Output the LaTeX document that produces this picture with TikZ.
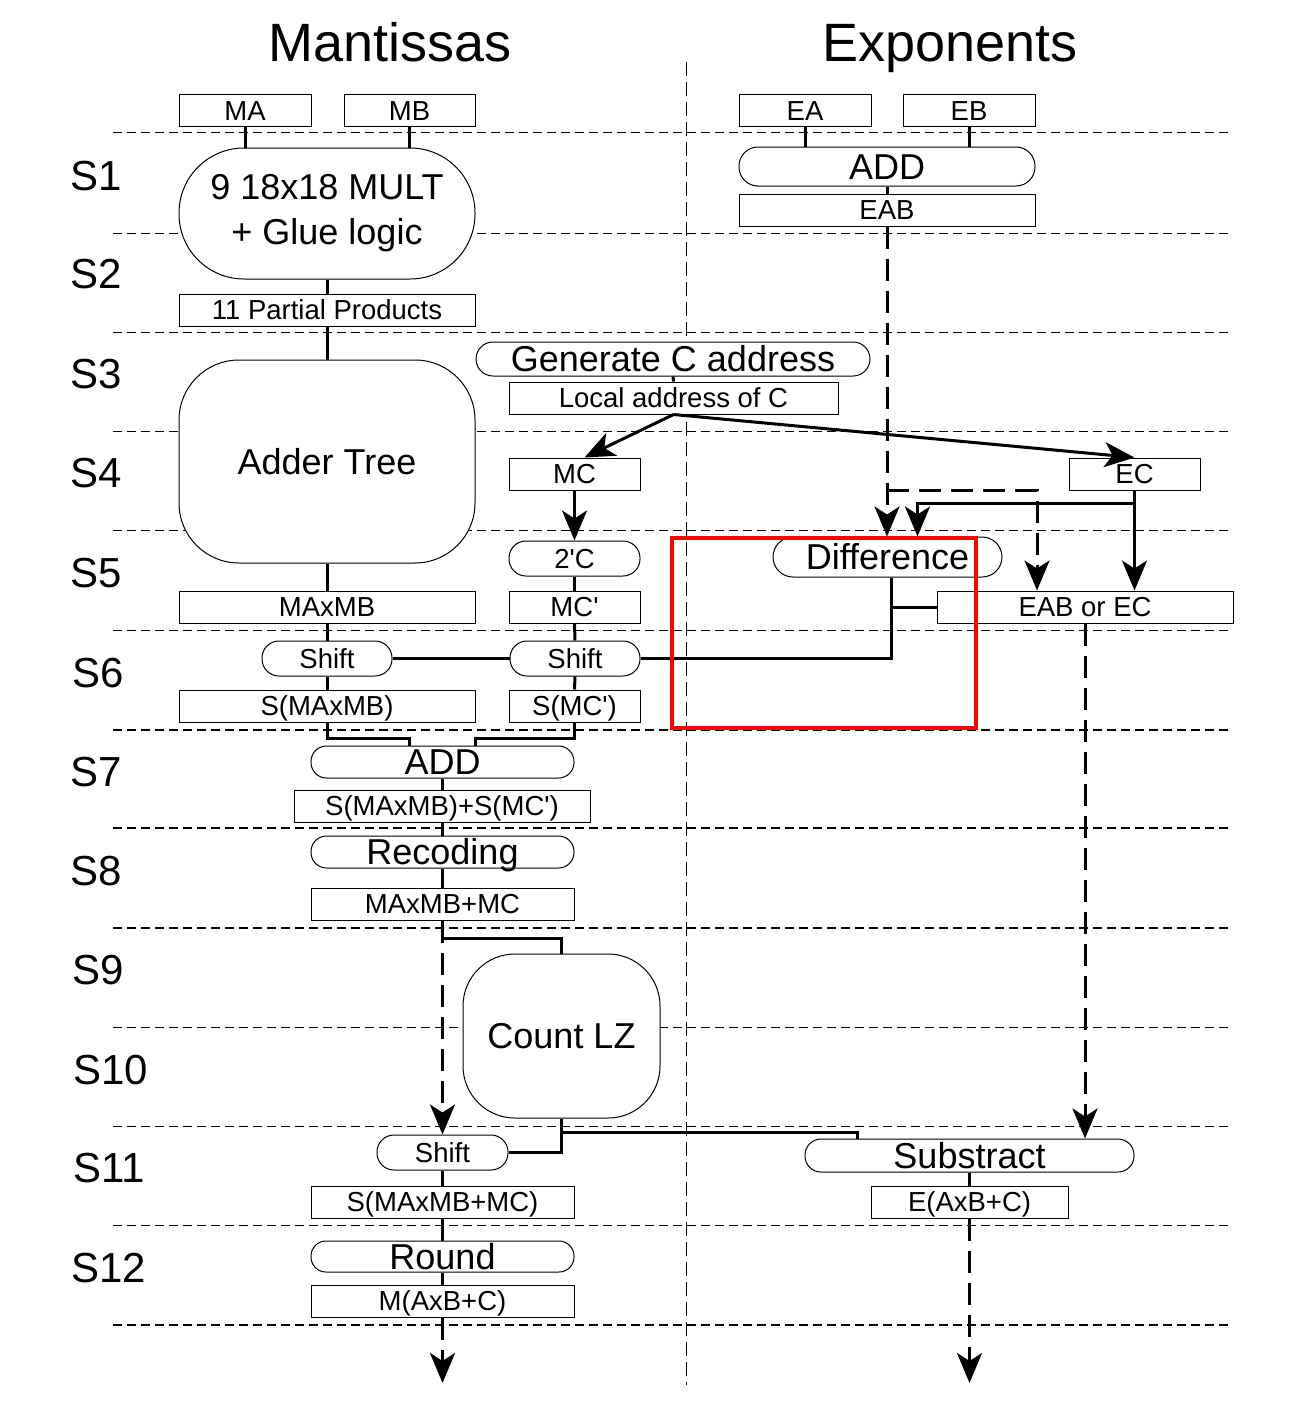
\documentclass[tikz,border=0pt]{standalone}
\usepackage{fontspec}
\newfontfamily\lsans{Liberation Sans}
\newcommand\dsmall{\lsans\fontsize{27.5}{33}\selectfont}
\newcommand\dbig{\lsans\fontsize{36}{45}\selectfont}
\newcommand\dstage{\lsans\fontsize{42}{50}\selectfont}
\newcommand\dtitle{\lsans\fontsize{54}{64}\selectfont}
\usetikzlibrary{arrows.meta}
\begin{document}
\begin{tikzpicture}[x=1pt,y=-1pt,
 rbox/.style 2 args={draw,line width=1pt,fill=white,inner sep=0pt,minimum width=#1,minimum height=#2,font=\dsmall,text height=19.7pt,text depth=0pt},
 sbox/.style n args={3}{rbox={#1}{#2},rounded corners=#3},
 bigt/.style={font=\dbig,text height=25.8pt,text depth=0pt},
 conn/.style={line width=3pt},
 dconn/.style={line width=3pt,dash pattern=on 22pt off 10pt},
 arr/.style={-{Stealth[length=30pt,width=25pt,inset=8pt]}},
 sep/.style={line width=0.9pt,dash pattern=on 9pt off 5pt},
 sepb/.style={line width=1.7pt,dash pattern=on 9pt off 5pt},
 vsep/.style={line width=0.9pt,dash pattern=on 14pt off 6pt},
 stg/.style={font=\dstage,anchor=west,inner sep=0pt,text height=30.1pt,text depth=0pt},
 ttl/.style={font=\dtitle,inner sep=0pt,text height=38.7pt,text depth=0pt}]
\useasboundingbox (0,0) rectangle (1296,1410);

% separators
\foreach \yy in {132,233,332,431,530,630,1027,1126,1225}{\draw[sep] (113,\yy) -- (1230,\yy);}
\foreach \yy in {730,828,928,1325}{\draw[sepb] (113,\yy) -- (1232,\yy);}
\draw[vsep] (686,62) -- (686,1385);

% titles and stages
\node[ttl] (tM) at (390,42) {Mantissas};
\node[ttl] (tE) at (950,42) {Exponents};
\node[stg] (s1) at (70,175) {S1};
\node[stg] (s2) at (70,273) {S2};
\node[stg] (s3) at (70,373) {S3};
\node[stg] (s4) at (70,472) {S4};
\node[stg] (s5) at (70,572) {S5};
\node[stg] (s6) at (72,672) {S6};
\node[stg] (s7) at (70,771) {S7};
\node[stg] (s8) at (70,870) {S8};
\node[stg] (s9) at (72,969) {S9};
\node[stg] (s10) at (73,1069) {S10};
\node[stg] (s11) at (73,1167) {S11};
\node[stg] (s12) at (71,1267) {S12};

% nodes
\node[rbox={132pt}{32pt}] (MA) at (245,111) {MA};
\node[rbox={131pt}{32pt}] (MB) at (409.5,111) {MB};
\node[rbox={132pt}{32pt}] (EA) at (805,111) {EA};
\node[rbox={132pt}{32pt}] (EB) at (969,111) {EB};
\node[draw,line width=1pt,fill=white,inner sep=0pt,minimum width=296pt,minimum height=131pt,rounded corners=65pt,font=\dbig,align=center] (MULT) at (327,213.5) {9 18x18 MULT\\+ Glue logic};
\node[rbox={296pt}{32pt}] (PP) at (327,310) {11 Partial Products};
\node[sbox={296pt}{39pt}{19pt},bigt] (ADDE) at (887,166.5) {ADD};
\node[rbox={296pt}{32pt}] (EAB) at (887,210) {EAB};
\node[sbox={394pt}{34pt}{17pt},bigt] (GEN) at (673,359) {Generate C address};
\node[rbox={329pt}{32pt}] (LOC) at (673.5,398) {Local address of C};
\node[sbox={296pt}{203pt}{60pt},bigt] (ADDER) at (327,461.5) {Adder Tree};
\node[rbox={131pt}{32pt}] (MC) at (574.5,474) {MC};
\node[rbox={131pt}{32pt}] (EC) at (1134.5,474) {EC};
\node[sbox={131pt}{35pt}{17pt}] (TWOC) at (574.5,558.5) {2'C};
\node[sbox={229pt}{40pt}{20pt},bigt] (DIFF) at (887.5,557) {Difference};
\node[rbox={296pt}{32pt}] (MAMB) at (327,607) {MAxMB};
\node[rbox={131pt}{32pt}] (MCP) at (574.5,607) {MC'};
\node[rbox={296pt}{32pt}] (EOR) at (1085,607) {EAB or EC};
\node[sbox={130pt}{35pt}{17pt}] (SH1) at (327,658.5) {Shift};
\node[sbox={130pt}{35pt}{17pt}] (SH2) at (575,658.5) {Shift};
\node[rbox={296pt}{32pt}] (SMAMB) at (327,706) {S(MAxMB)};
\node[rbox={131pt}{32pt}] (SMC) at (574.5,706) {S(MC')};
\node[sbox={263pt}{32pt}{15.5pt},bigt] (ADDM) at (442.5,762) {ADD};
\node[rbox={296pt}{32pt}] (SUM) at (442,806) {S(MAxMB)+S(MC')};
\node[sbox={263pt}{32pt}{15.5pt},bigt] (REC) at (442.5,852) {Recoding};
\node[rbox={263pt}{32pt}] (MM) at (442.5,904) {MAxMB+MC};
\node[sbox={197pt}{164pt}{52pt},bigt] (CLZ) at (561.5,1036) {Count LZ};
\node[sbox={131pt}{35pt}{17pt}] (SH3) at (442.5,1152.5) {Shift};
\node[sbox={329pt}{33pt}{16pt},bigt] (SUB) at (969.5,1155.5) {Substract};
\node[rbox={263pt}{32pt}] (SMM) at (442.5,1202) {S(MAxMB+MC)};
\node[rbox={197pt}{32pt}] (EABC) at (969.5,1202) {E(AxB+C)};
\node[sbox={263pt}{31pt}{15pt},bigt] (ROUND) at (442.5,1256.5) {Round};
\node[rbox={263pt}{32pt}] (MABC) at (442.5,1301) {M(AxB+C)};

% helper coordinates
\coordinate (dj) at (EAB.south |- EC.south);
\coordinate (ecj) at ([yshift=-13pt]EC.south);
\coordinate (cj) at ([yshift=-14pt]CLZ.south);
\coordinate (dv) at ([xshift=3.5pt]DIFF.south);
\coordinate (outM) at (442.5,1383);
\coordinate (outE) at (969.5,1383);

% connectors
\draw[conn] (MA.south) -- (MA.south |- MULT.north);
\draw[conn] (MB.south) -- (MB.south |- MULT.north);
\draw[conn] (MULT.south) -- (PP.north);
\draw[conn] (PP.south) -- (ADDER.north);
\draw[conn] (ADDER.south) -- (MAMB.north);
\draw[conn] (MAMB.south) -- (SH1.north);
\draw[conn] (SH1.south) -- (SMAMB.north);
\draw[conn] (EA.south) -- (EA.south |- ADDE.north);
\draw[conn] (EB.south) -- (EB.south |- ADDE.north);
\draw[conn] (ADDE.south) -- (EAB.north);
\draw[conn] (GEN.south) -- (LOC.north);
\draw[conn,arr] (LOC.south) -- ([xshift=10pt]MC.north);
\draw[conn,arr] (LOC.south) -- (EC.north);
\draw[conn,arr] (MC.south) -- (TWOC.north);
\draw[conn] (TWOC.south) -- (MCP.north);
\draw[conn] (MCP.south) -- (SH2.north);
\draw[conn] (SH2.south) -- (SMC.north);
\draw[conn] (SH1.east) -- (SH2.west);
\draw[conn] (SH2.east) -| (dv);
\draw[conn] (EOR.west) -- (EOR.west -| dv);
\draw[dconn,arr] (EAB.south) -- (EAB.south |- DIFF.north);
\draw[dconn,arr] (dj) -| ([xshift=-48pt]EOR.north);
\draw[conn,arr] (EC.south) -- (EC.south |- EOR.north);
\draw[conn,arr] (ecj) -| ([xshift=30pt]DIFF.north);
\draw[dconn,arr] (EOR.south) -- (EOR.south |- SUB.north);
\draw[conn] (SMAMB.south) -- ++(0,16) -| ([xshift=-33pt]ADDM.north);
\draw[conn] (SMC.south) -- ++(0,16) -| ([xshift=33pt]ADDM.north);
\draw[conn] (ADDM.south) -- (ADDM.south |- SUM.north);
\draw[conn] (SUM.south -| ADDM.south) -- (REC.north);
\draw[conn] (REC.south) -- (MM.north);
\draw[conn] (MM.south) -- ++(0,18) -| (CLZ.north);
\draw[dconn,arr] (MM.south) -- (SH3.north);
\draw[conn] (CLZ.south) |- (SH3.east);
\draw[conn] (cj) -| ([xshift=-112pt]SUB.north);
\draw[conn] (SH3.south) -- (SMM.north);
\draw[conn] (SMM.south) -- (ROUND.north);
\draw[conn] (ROUND.south) -- (MABC.north);
\draw[dconn,arr] (MABC.south) -- (outM);
\draw[conn] (SUB.south) -- (EABC.north);
\draw[dconn,arr] (EABC.south) -- (outE);

% highlight
\draw[red,line width=4pt] (672,538) rectangle (976,728);
\end{tikzpicture}
\end{document}
